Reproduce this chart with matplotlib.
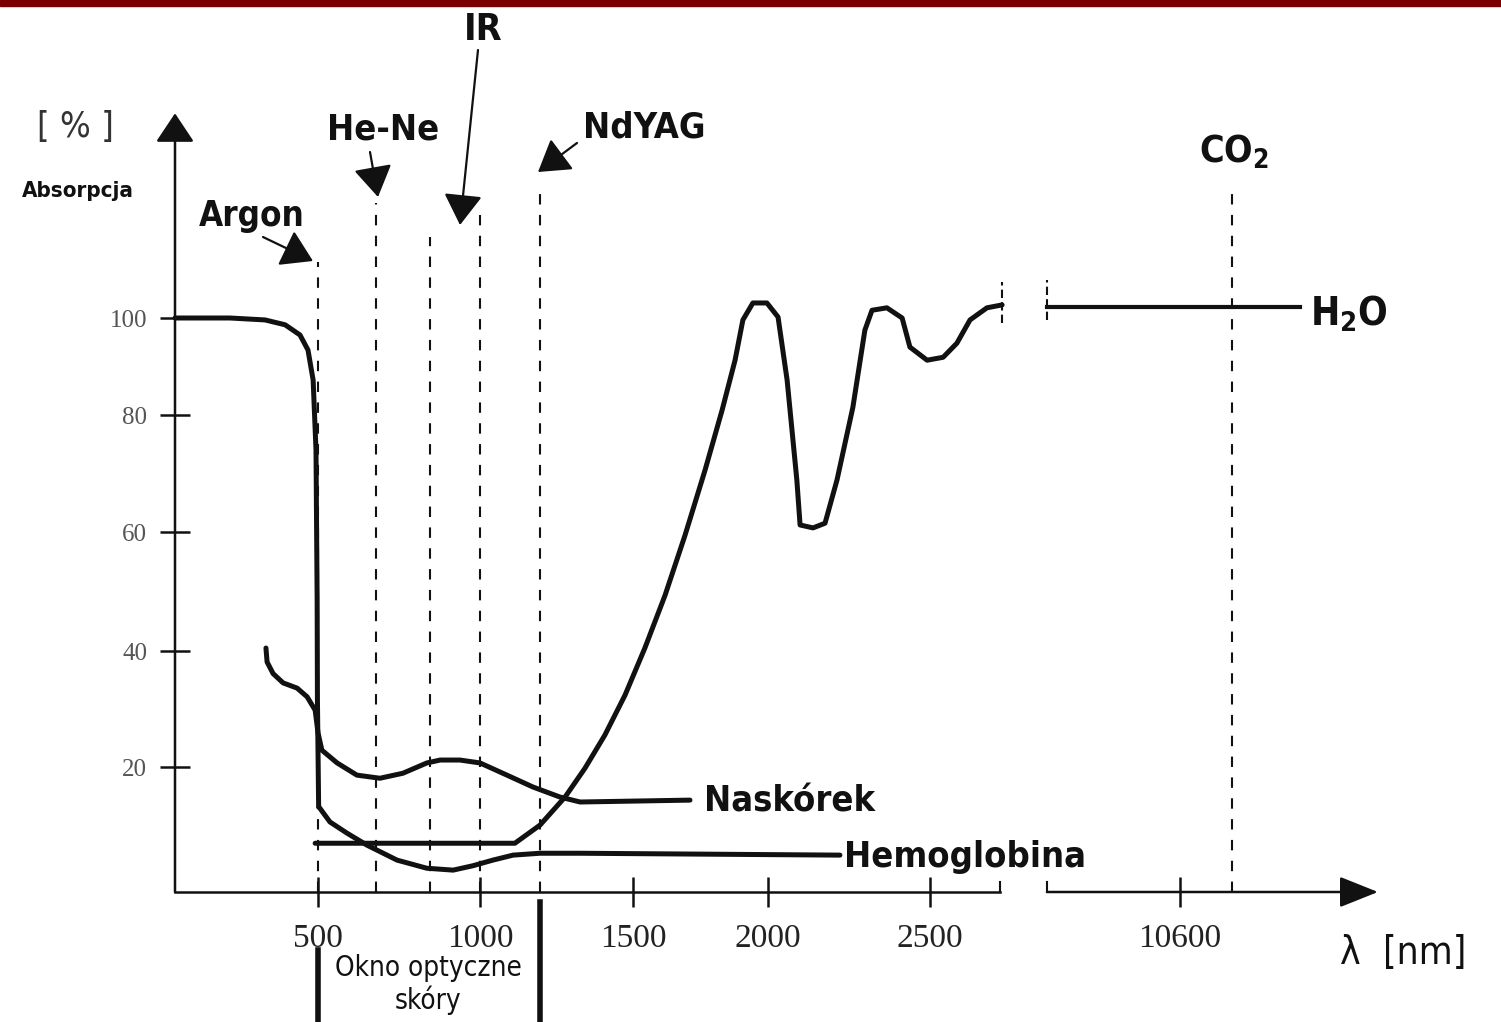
import numpy as np
import matplotlib
matplotlib.use('Agg')
import matplotlib.pyplot as plt
from matplotlib import font_manager

# ------------------------------------------------------------
# dane: dlugosc fali [nm], absorpcja [%]
# ------------------------------------------------------------
# woda - czesc opadajaca (do ~500 nm)
water_x1 = [0, 192, 315, 385, 437, 465, 483, 493, 497, 498, 502]
water_y1 = [100, 100, 99.6, 98.6, 96.5, 93.4, 87.2, 74.0, 48.6, 31.6, 13.6]
# woda - minimum i pasma w podczerwieni
water_x2 = [490, 1114, 1196, 1278, 1343, 1408, 1474, 1544, 1619, 1693, 1767,
            1830, 1878, 1907, 1944, 1996, 2031, 2059, 2089, 2099, 2139, 2176,
            2213, 2262, 2299, 2321, 2367, 2414, 2438, 2491, 2545, 2592, 2637,
            2695, 2747]
water_y2 = [7.8, 7.8, 10.7, 15.2, 19.8, 25.5, 32.4, 40.5, 49.4, 59.5, 70.6,
            81.0, 91.3, 99.6, 103.1, 103.1, 100.2, 87.2, 68.9, 61.2, 60.7, 61.5,
            68.9, 81.6, 97.5, 101.6, 102.1, 100.0, 94.0, 91.3, 91.9, 94.8, 99.6,
            102.1, 102.7]
# woda - za przerwa osi
water_x3 = [10000, 11141]
water_y3 = [102.3, 102.3]

# naskorek
skin_x = [318, 322, 343, 378, 427, 462, 490, 500, 512, 559, 620, 691, 762,
          836, 877, 938, 1000, 1088, 1173, 1261, 1327, 1711]
skin_y = [40.5, 38.1, 36.1, 34.5, 33.6, 32.1, 29.8, 25.9, 22.9, 20.7, 18.7,
          18.2, 19.0, 20.7, 21.2, 21.2, 20.7, 18.7, 16.8, 15.2, 14.4, 14.7]

# hemoglobina
hemo_x = [503, 537, 590, 651, 744, 836, 917, 978, 1042, 1108, 1196, 1327, 2222]
hemo_y = [13.6, 11.2, 9.4, 7.5, 5.1, 3.8, 3.5, 4.2, 5.1, 5.9, 6.2, 6.2, 5.9]

# linie laserow (x, wysokosc gornego konca)
laser_x = [500, 679, 846, 1000, 1196, 10835]
laser_top = [111.5, 123.7, 116.7, 121.2, 127.0, 127.0]

x_ticks = [500, 1000, 1500, 2000, 2500, 10600]
x_labels = ['500', '1000', '1500', '2000', '2500', '10600']
y_ticks = [20, 40, 60, 80, 100]
y_labels = ['20', '40', '60', '80', '100']

# ------------------------------------------------------------
# skale odreczne - osie nie sa rownomierne na rysunku
# ------------------------------------------------------------
X_NM = [-10000, 0, 500, 1000, 1500, 2000, 2500, 2750, 10000, 10600, 100000]
X_PX = [-2860, 0, 143, 305, 458, 593, 755, 828, 872, 1005,
        1005 + 89400 * 133 / 600]
Y_PC = [-1000, 0, 20, 40, 60, 80, 100, 1000]
Y_PX = [-6250, 0, 125, 241, 360, 477, 574, 574 + 900 * 4.85]


def fx(v):
    return np.interp(v, X_NM, X_PX)


def fx_inv(p):
    return np.interp(p, X_PX, X_NM)


def fy(v):
    return np.interp(v, Y_PC, Y_PX)


def fy_inv(p):
    return np.interp(p, Y_PX, Y_PC)


W, H = 1501, 1022


def P(x, y):
    # pozycja w pikselach obrazka -> ulamek osi
    return (x / W, 1 - y / H)


avail = {f.name for f in font_manager.fontManager.ttflist}
if 'Liberation Sans Narrow' in avail:
    NARROW = ['Liberation Sans Narrow', 'DejaVu Sans']
    STRETCH = 'normal'
else:
    NARROW = ['DejaVu Sans']
    STRETCH = 'condensed'
SERIF = ['Liberation Serif', 'DejaVu Serif']

plt.rcParams['mathtext.default'] = 'regular'

ink = '#111111'

fig = plt.figure(figsize=(W / 100, H / 100), dpi=100)
ax = fig.add_axes([0, 0, 1, 1])
ax.set_xscale('function', functions=(fx, fx_inv))
ax.set_yscale('function', functions=(fy, fy_inv))
ax.set_xlim(fx_inv(-175), fx_inv(W - 175))
ax.set_ylim(fy_inv(-(H - 892)), fy_inv(892))

# pasek u gory
fig.patches.append(plt.Rectangle((0, 1 - 6 / H), 1, 6 / H, transform=fig.transFigure,
                                 color='#7a0000', zorder=10))

for s in ax.spines.values():
    s.set_visible(False)
ax.spines['left'].set_position(('data', 0))
ax.spines['bottom'].set_position(('data', 0))

ax.set_xticks(x_ticks)
ax.set_xticklabels(x_labels)
ax.set_yticks(y_ticks)
ax.set_yticklabels(y_labels)
ax.xaxis.set_minor_locator(matplotlib.ticker.NullLocator())
ax.yaxis.set_minor_locator(matplotlib.ticker.NullLocator())
ax.tick_params(axis='x', direction='inout', length=22, width=1.8, pad=12,
               labelsize=24, labelcolor='#222222', color=ink)
ax.tick_params(axis='y', direction='inout', length=22, width=1.8, pad=9,
               labelsize=18, labelcolor='#555555', color=ink)
for t in ax.get_xticklabels() + ax.get_yticklabels():
    t.set_fontfamily(SERIF)

# osie ze strzalkami
ax.plot([0, 2740], [0, 0], color=ink, lw=1.8, clip_on=False)
ax.plot([2740, 2740], [0, 1.6], color=ink, lw=1.5)
ax.plot([10000, 10000], [0, 1.6], color=ink, lw=1.5)
ax.annotate('', xy=(0, 142.2), xytext=(0, 0),
            arrowprops=dict(arrowstyle='-|>,head_length=0.75,head_width=0.5',
                            mutation_scale=24, lw=1.8, color=ink,
                            shrinkA=0, shrinkB=0))
ax.annotate('', xy=(11493, 0), xytext=(10000, 0),
            arrowprops=dict(arrowstyle='-|>,head_length=1.0,head_width=0.4',
                            mutation_scale=24, lw=1.8, color=ink,
                            shrinkA=0, shrinkB=0))

# linie laserow
ax.vlines(laser_x, 0, laser_top, colors=ink, linestyles=(0, (5, 5)), lw=1.5)

# krzywe
curve_kw = dict(color=ink, lw=3.6, solid_capstyle='round', solid_joinstyle='round')
ax.plot(water_x1, water_y1, **curve_kw)
ax.plot(water_x2, water_y2, **curve_kw)
ax.plot(water_x3, water_y3, color=ink, lw=3.0)
ax.plot(skin_x, skin_y, **curve_kw)
ax.plot(hemo_x, hemo_y, **curve_kw)

# znaczniki przerwy przy H2O
ax.plot([2747, 2747], [99.0, 107.4], color=ink, lw=1.5, ls=(0, (4, 2)))
ax.plot([10000, 10000], [99.6, 107.8], color=ink, lw=1.5, ls=(0, (4, 2)))

# okno optyczne skory
ax.plot([500, 500], [fy_inv(-58), fy_inv(-130)], color=ink, lw=4, clip_on=False)
ax.plot([1196, 1196], [fy_inv(-10), fy_inv(-130)], color=ink, lw=4, clip_on=False)

lab = dict(transform=ax.transAxes, family=NARROW, fontstretch=STRETCH,
           fontweight='bold', color=ink)
ax.text(*P(383, 130), 'He-Ne', fontsize=26, ha='center', va='center', **lab)
ax.text(*P(483, 30), 'IR', fontsize=27, ha='center', va='center', **lab)
ax.text(*P(583, 128), 'NdYAG', fontsize=26, ha='left', va='center', **lab)
ax.text(*P(252, 216), 'Argon', fontsize=25, ha='center', va='center', **lab)
ax.text(*P(1199, 152), 'CO$_2$', fontsize=27, ha='left', va='center', **lab)
ax.text(*P(1310, 314), 'H$_2$O', fontsize=28, ha='left', va='center', **lab)
ax.text(*P(704, 801), 'Naskórek', fontsize=26, ha='left', va='center', **lab)
ax.text(*P(844, 857), 'Hemoglobina', fontsize=26, ha='left', va='center', **lab)
ax.text(*P(78, 191), 'Absorpcja', fontsize=16, ha='center', va='center', **lab)

reg = dict(transform=ax.transAxes, family=NARROW, fontstretch=STRETCH, color=ink)
ax.text(*P(75, 127), '[ % ]', fontsize=26, ha='center', va='center',
        color='#333333', transform=ax.transAxes, family=NARROW, fontstretch=STRETCH)
ax.text(*P(1340, 953), 'λ  [nm]', fontsize=28, ha='left', va='center', **reg)
ax.text(*P(428, 968), 'Okno optyczne', fontsize=20, ha='center', va='center',
        fontweight='medium', **reg)
ax.text(*P(428, 1000), 'skóry', fontsize=20, ha='center', va='center',
        fontweight='medium', **reg)

# strzalki od etykiet
arr = dict(arrowstyle='-|>,head_length=0.8,head_width=0.5', mutation_scale=24,
           lw=1.6, color=ink, shrinkA=0, shrinkB=0)
for tip, tail in [((378, 197), (370, 152)),
                  ((460, 225), (478, 50)),
                  ((538, 172), (577, 143)),
                  ((313, 261), (263, 237))]:
    ax.annotate('', xy=P(*tip), xytext=P(*tail), xycoords='axes fraction',
                arrowprops=arr)

fig.savefig('out.png', dpi=100, facecolor='white')
